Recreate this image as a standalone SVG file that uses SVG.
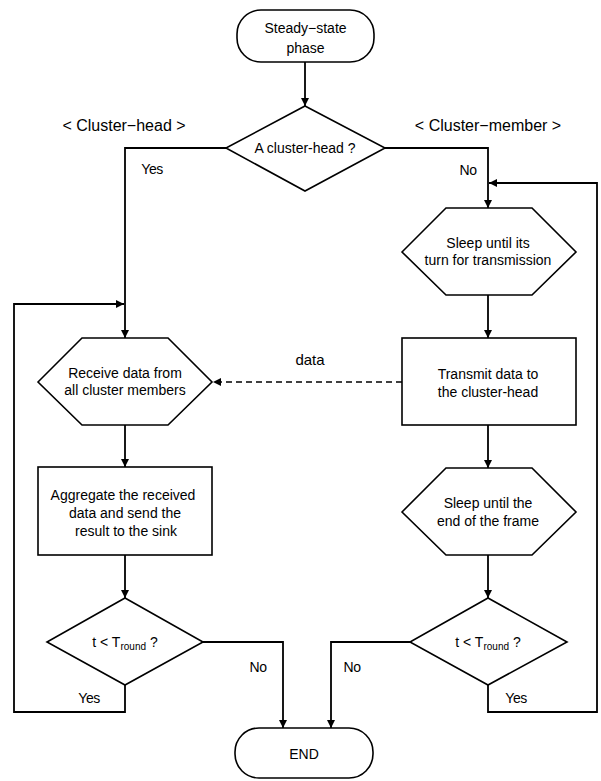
<svg xmlns="http://www.w3.org/2000/svg" width="601" height="781" viewBox="0 0 601 781">
<style>
.shape{fill:#fff;stroke:#000;stroke-width:1.6}
.t{font-family:"Liberation Sans",Arial,sans-serif;font-size:14px;fill:#000;text-anchor:middle}
.lbl{font-family:"Liberation Sans",Arial,sans-serif;font-size:16px;fill:#000;text-anchor:middle}
.yn{font-family:"Liberation Sans",Arial,sans-serif;font-size:14px;fill:#000;text-anchor:middle;letter-spacing:-0.5px}
.c{fill:none;stroke:#000;stroke-width:1.8}
.d{fill:none;stroke:#000;stroke-width:1.6;stroke-dasharray:6 4}
.sub{font-size:10px}
</style>
<defs>
<marker id="ah" viewBox="0 0 10 10" refX="10" refY="5" markerWidth="9" markerHeight="8" markerUnits="userSpaceOnUse" orient="auto">
<path d="M0,0 L10,5 L0,10 z" fill="#000"/>
</marker>
</defs>
<rect width="601" height="781" fill="#fff"/>
<g id="connectors">
<path class="c" d="M305,62 V106" marker-end="url(#ah)"/>
<path class="c" d="M226,148 H125 V338" marker-end="url(#ah)"/>
<path class="c" d="M385,148 H488 V208" marker-end="url(#ah)"/>
<path class="c" d="M125,425 V467" marker-end="url(#ah)"/>
<path class="c" d="M125,555 V598" marker-end="url(#ah)"/>
<path class="c" d="M203,642 H283 V728" marker-end="url(#ah)"/>
<path class="c" d="M125,685 V712 H14 V304 H124" marker-end="url(#ah)"/>
<path class="c" d="M488,295 V338" marker-end="url(#ah)"/>
<path class="c" d="M488,425 V468" marker-end="url(#ah)"/>
<path class="c" d="M488,555 V598" marker-end="url(#ah)"/>
<path class="c" d="M410,642 H331 V728" marker-end="url(#ah)"/>
<path class="c" d="M488,685 V712 H597 V183 H489" marker-end="url(#ah)"/>
<path class="d" d="M402,382 H213" marker-end="url(#ah)"/>
<text class="yn" x="152" y="174">Yes</text>
<text class="yn" x="468" y="175">No</text>
<text class="lbl" x="310" y="365" style="font-size:15px">data</text>
<text class="yn" x="258" y="672">No</text>
<text class="yn" x="352" y="672">No</text>
<text class="yn" x="89" y="703">Yes</text>
<text class="yn" x="516" y="703">Yes</text>
</g>
<g id="label-head"><text class="lbl" x="124" y="131">&lt; Cluster−head &gt;</text></g>
<g id="label-member"><text class="lbl" x="488" y="131">&lt; Cluster−member &gt;</text></g>
<g id="start">
<rect class="shape" x="237" y="10" width="137" height="52" rx="24" ry="24"/>
<text class="t" x="305.5" y="33">Steady−state</text>
<text class="t" x="305.5" y="53">phase</text>
</g>
<g id="is-head">
<polygon class="shape" points="305,106 385,148 305,191 226,148"/>
<text class="t" x="305" y="153">A cluster-head ?</text>
</g>
<g id="receive">
<polygon class="shape" points="38,382 82,338 168,338 212,382 168,425 82,425"/>
<text class="t" x="125" y="378">Receive data from</text>
<text class="t" x="125" y="395">all cluster members</text>
</g>
<g id="aggregate">
<rect class="shape" x="38" y="467" width="174" height="88"/>
<text class="t" x="123" y="500">Aggregate the received</text>
<text class="t" x="125" y="518">data and send the</text>
<text class="t" x="126" y="536">result to the sink</text>
</g>
<g id="head-check">
<polygon class="shape" points="125,598 203,642 125,685 47,642"/>
<text class="t" x="125" y="647">t &lt; T<tspan class="sub" dy="3">round</tspan><tspan dy="-3"> ?</tspan></text>
</g>
<g id="sleep-turn">
<polygon class="shape" points="402,252 446,208 532,208 576,252 532,295 446,295"/>
<text class="t" x="488" y="248">Sleep until its</text>
<text class="t" x="488" y="265">turn for transmission</text>
</g>
<g id="transmit">
<rect class="shape" x="402" y="338" width="174" height="87"/>
<text class="t" x="488" y="379">Transmit data to</text>
<text class="t" x="488" y="397">the cluster-head</text>
</g>
<g id="sleep-frame">
<polygon class="shape" points="402,512 446,468 532,468 576,512 532,555 446,555"/>
<text class="t" x="488" y="508">Sleep until the</text>
<text class="t" x="488" y="526">end of the frame</text>
</g>
<g id="member-check">
<polygon class="shape" points="488,598 567,642 488,685 410,642"/>
<text class="t" x="488" y="647">t &lt; T<tspan class="sub" dy="3">round</tspan><tspan dy="-3"> ?</tspan></text>
</g>
<g id="end">
<rect class="shape" x="235" y="728" width="138" height="50" rx="24" ry="24"/>
<text class="t" x="304" y="759">END</text>
</g>
</svg>
